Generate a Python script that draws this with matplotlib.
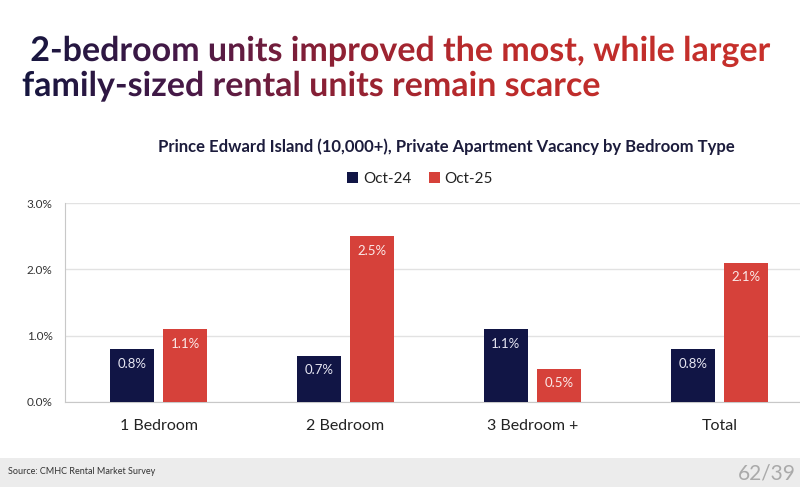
import matplotlib
matplotlib.use("Agg")
import matplotlib.pyplot as plt
import numpy as np
from matplotlib.textpath import TextPath
from matplotlib.patches import PathPatch, Rectangle
from matplotlib.font_manager import FontProperties
from matplotlib.colors import LinearSegmentedColormap

# data
categories = ['1 Bedroom', '2 Bedroom', '3 Bedroom +', 'Total']
oct24 = [0.8, 0.7, 1.1, 0.8]
oct25 = [1.1, 2.5, 0.5, 2.1]
series_names = ['Oct-24', 'Oct-25']
yticks = [0.0, 1.0, 2.0, 3.0]

NAVY = '#111545'
RED = '#d6413a'
FONT = 'Lato'

plt.rcParams['font.family'] = [FONT, 'DejaVu Sans']

fig = plt.figure(figsize=(8, 5), dpi=100)
fig.patch.set_facecolor('white')

# main bar chart
ax = fig.add_axes([0.08125, 0.196, 0.935, 0.398])
x = np.arange(len(categories))
w = 0.235
off = 0.142
b1 = ax.bar(x - off, oct24, w, color=NAVY, label=series_names[0], zorder=3)
b2 = ax.bar(x + off, oct25, w, color=RED, label=series_names[1], zorder=3)

for bars, vals, tc in [(b1, oct24, '#e6e6f2'), (b2, oct25, '#fbe9e8')]:
    for r, v in zip(bars, vals):
        ax.text(r.get_x() + r.get_width() / 2, v - 0.22, f'{v:.1f}%',
                ha='center', va='center', color=tc, fontsize=9.5, zorder=4)

ax.set_xlim(-0.5, len(categories) - 0.5)
ax.set_ylim(0, 3.0)
ax.set_yticks(yticks)
ax.set_yticklabels([f'{t:.1f}%' for t in yticks], fontsize=8.5, color='#333333')
ax.set_xticks(x)
ax.set_xticklabels(categories, fontsize=11.5, color='#222222')
ax.tick_params(axis='both', length=0)
ax.tick_params(axis='x', pad=12)
ax.tick_params(axis='y', pad=9)
ax.yaxis.grid(True, color='#e2e2e2', linewidth=1.0, zorder=0)
for s in ['top', 'right']:
    ax.spines[s].set_visible(False)
ax.spines['left'].set_color('#c8c8c8')
ax.spines['bottom'].set_color('#c8c8c8')

ax.set_title('Prince Edward Island (10,000+), Private Apartment Vacancy by Bedroom Type',
             fontsize=12, fontweight='bold', color='#1c1c3c', x=0.51, y=1.215)
ax.legend(loc='upper center', bbox_to_anchor=(0.475, 1.225), ncol=2, frameon=False,
          fontsize=11, handlelength=0.7, handleheight=0.7, handletextpad=0.3,
          columnspacing=1.2, labelcolor='#222222')

# footer band
fig.patches.append(Rectangle((0, 0.026), 1, 0.058, transform=fig.transFigure,
                             facecolor='#ececec', edgecolor='none', zorder=0))
fig.text(0.01, 0.056, 'Source: CMHC Rental Market Survey', fontsize=6.5,
         color='#333333', va='center')
fig.text(0.995, 0.052, '62/39', fontsize=15, color='#aaaaaa', va='center', ha='right')

# gradient headline, drawn in a pixel-space overlay
ov = fig.add_axes([0, 0, 1, 1], zorder=5)
ov.set_xlim(0, 800)
ov.set_ylim(0, 500)
ov.axis('off')
ov.patch.set_alpha(0)

prop = FontProperties(family=FONT, weight='bold')
lines = [(' 2-bedroom units improved the most, while larger', 22, 500 - 61),
         ('family-sized rental units remain scarce', 22, 500 - 96)]
cmap = LinearSegmentedColormap.from_list(
    'hd', [(0, '#16163f'), (0.22, '#4a1a48'), (0.40, '#8a2035'),
           (0.60, '#bb2b2c'), (1, '#c8312b')])
grad = np.linspace(0, 1, 400).reshape(1, -1)
for txt, tx, ty in lines:
    tp = TextPath((tx, ty), txt, size=34, prop=prop)
    patch = PathPatch(tp, facecolor='none', edgecolor='none')
    ov.add_patch(patch)
    im = ov.imshow(grad, cmap=cmap, extent=[22, 780, 380, 480], aspect='auto',
                   origin='lower', interpolation='bilinear')
    im.set_clip_path(patch)

fig.savefig('out.png', dpi=100)
